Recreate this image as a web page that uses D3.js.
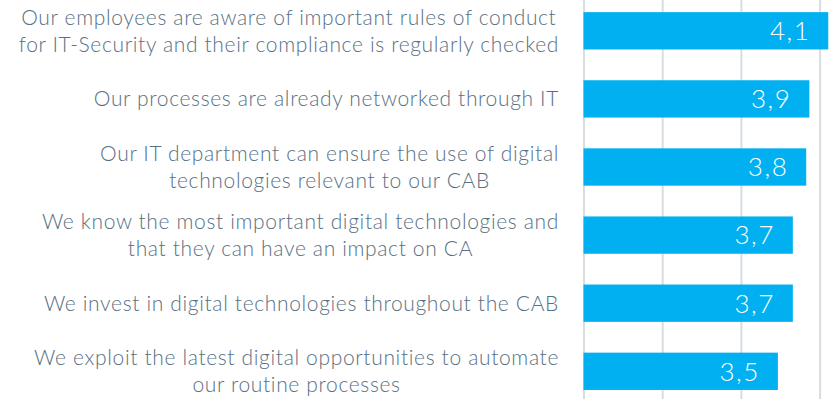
<!DOCTYPE html>
<html lang="en">
<head>
    <meta charset="UTF-8">
    <script src="https://d3js.org/d3.v7.min.js"></script>
    <title>Digital readiness</title>
    <style>
        body { margin: 0; background: #fff; }
    </style>
</head>
<body>
    <div id="container"></div>
</body>
    <script>
        // data
        var categories = [
            ["Our employees are aware of important rules of conduct", "for IT-Security and their compliance is regularly checked"],
            ["Our processes are already networked through IT"],
            ["Our IT department can ensure the use of digital", "technologies relevant to our CAB"],
            ["We know the most important digital technologies and", "that they can have an impact on CA"],
            ["We invest in digital technologies throughout the CAB"],
            ["We exploit the latest digital opportunities to automate", "our routine processes"]
        ];
        var values = [4.11, 3.87, 3.83, 3.66, 3.66, 3.47];
        var gridTicks = [1, 2, 3, 4, 5];

        var width = 835,
            height = 399;

        var svg = d3.select("#container").append("svg")
            .attr("width", width).attr("height", height);

        // x starts at 1, the right part of the scale is cut off by the picture
        var x = d3.scaleLinear().domain([1, 5]).range([583.5, 898.3]);
        var y = d3.scaleBand()
            .domain(d3.range(categories.length))
            .range([-3.25, 405.35])
            .paddingInner(0.452)
            .paddingOuter(0.226);

        // gridlines
        var grid = svg.append("g")
            .call(d3.axisBottom(x).tickValues(gridTicks).tickSize(height).tickFormat(""));
        grid.select(".domain").remove();
        grid.selectAll(".tick line")
            .attr("stroke", "#d6dee4")
            .attr("stroke-width", 2);

        // bars
        svg.append("g").selectAll("rect")
            .data(values)
            .join("rect")
            .attr("x", x(1))
            .attr("y", (d, i) => y(i))
            .attr("width", d => x(d) - x(1))
            .attr("height", y.bandwidth())
            .attr("fill", "#00b0f0");

        // value labels, german style comma
        var fmt = d3.format(".1f");
        svg.append("g").selectAll("text")
            .data(values)
            .join("text")
            .attr("x", d => x(d) - 18)
            .attr("y", (d, i) => y(i) + y.bandwidth() / 2)
            .attr("dy", "0.36em")
            .attr("text-anchor", "end")
            .attr("fill", "#fff")
            .attr("font-family", "Lato, sans-serif")
            .attr("font-weight", 300)
            .attr("font-size", 26)
            .style("letter-spacing", "1.5px")
            .text(d => fmt(d).replace(".", ","));

        // category labels: lines centred on each other, block right aligned
        var rightEdge = 559,
            lineH = 27;
        var labels = svg.append("g")
            .attr("font-family", "Lato, sans-serif")
            .attr("font-weight", 300)
            .attr("font-size", 21)
            .attr("fill", "#587083")
            .style("letter-spacing", "0.65px");

        categories.forEach((lines, i) => {
            var g = labels.append("g");
            var cy = y(i) + y.bandwidth() / 2;
            var texts = g.selectAll("text")
                .data(lines)
                .join("text")
                .attr("y", (d, j) => cy + (j - (lines.length - 1) / 2) * lineH)
                .attr("dy", "0.35em")
                .attr("text-anchor", "middle")
                .text(d => d);
            var maxW = d3.max(texts.nodes(), n => n.getComputedTextLength());
            texts.attr("x", rightEdge - maxW / 2);
        });
    </script>
</html>
